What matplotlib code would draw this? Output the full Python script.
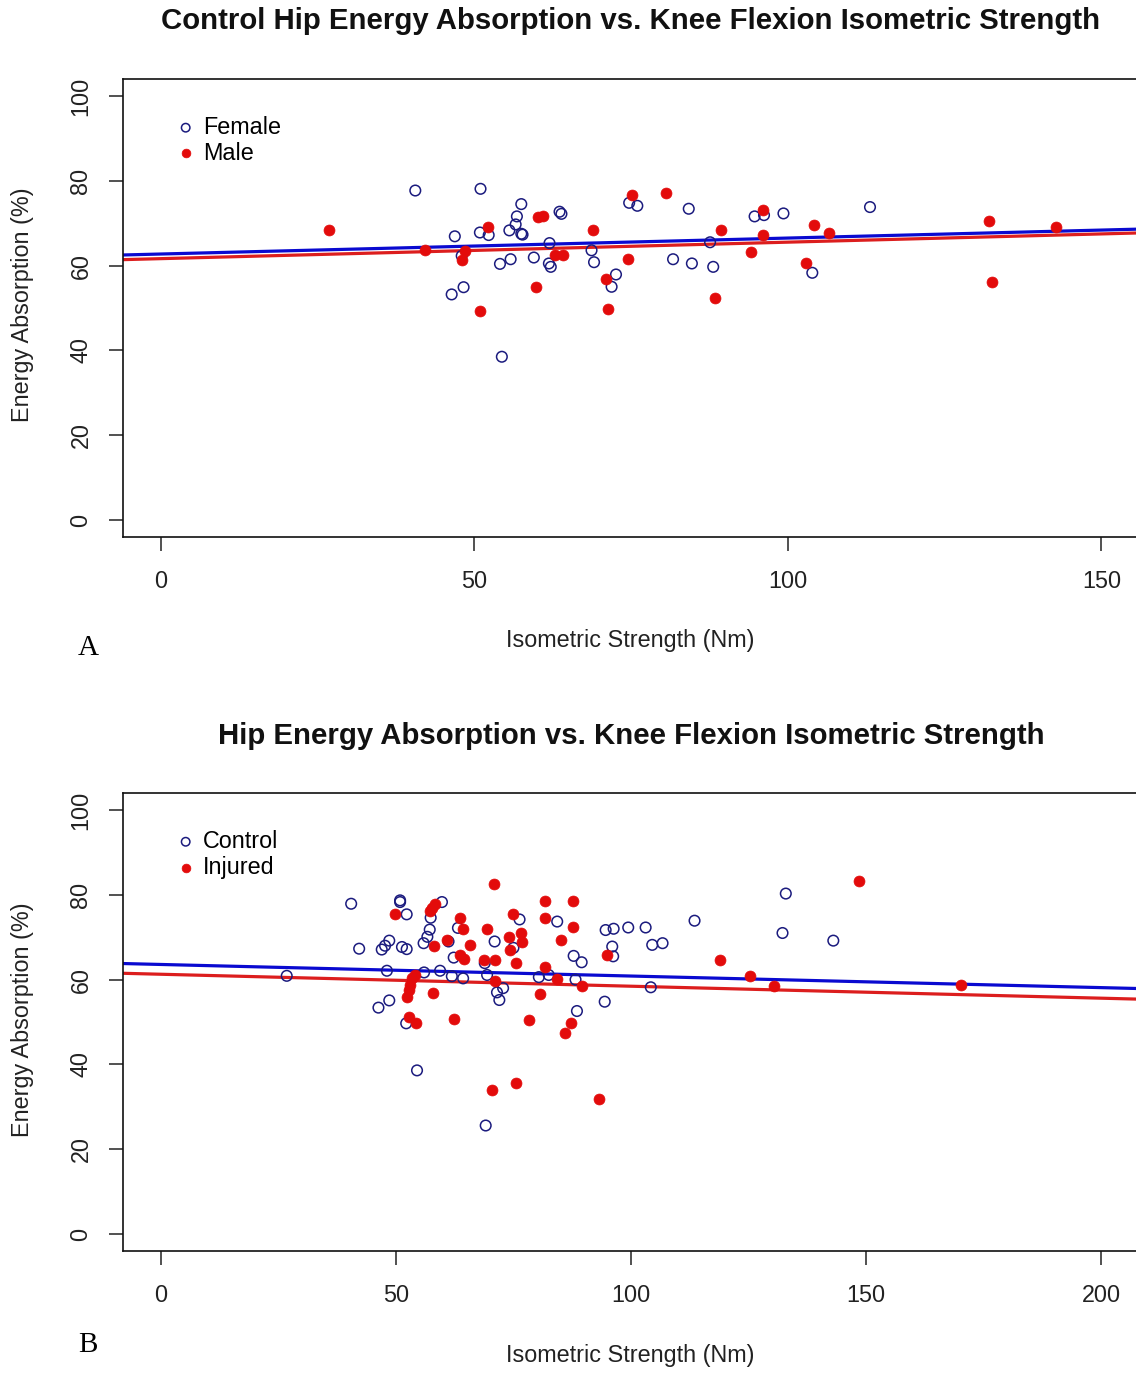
import numpy as np
import matplotlib
matplotlib.use("Agg")
import matplotlib.pyplot as plt

plt.rcParams["font.family"] = ["Liberation Sans", "DejaVu Sans"]

# ---- panel A: control group, female vs male ----
female_x = [40.6, 51.0, 46.9, 50.9, 52.3, 57.5, 56.8, 56.6, 55.6, 57.5, 57.7, 63.6, 63.9,
            54.1, 55.8, 59.5, 61.9, 62.2, 62.0, 46.4, 48.3, 54.4, 68.7, 69.1, 72.6, 71.9,
            74.7, 76.0, 84.2, 81.7, 84.7, 88.1, 87.6, 94.7, 96.2, 99.3, 103.9, 113.1, 48.0]
female_y = [77.7, 78.1, 66.9, 67.8, 67.2, 74.5, 71.6, 69.7, 68.3, 67.5, 67.3, 72.7, 72.2,
            60.4, 61.5, 61.9, 60.5, 59.7, 65.3, 53.2, 54.9, 38.5, 63.6, 60.8, 57.9, 55.0,
            74.8, 74.1, 73.4, 61.5, 60.5, 59.7, 65.5, 71.6, 71.9, 72.3, 58.3, 73.8, 62.3]
male_x = [26.8, 42.1, 48.5, 48.1, 52.2, 50.9, 59.8, 60.2, 61.0, 62.9, 64.1, 69.0, 71.0, 71.4,
          74.5, 75.1, 80.5, 89.4, 94.2, 96.0, 96.0, 88.4, 104.1, 106.6, 102.9, 132.1, 132.5, 142.8]
male_y = [68.3, 63.6, 63.4, 61.2, 69.1, 49.3, 55.0, 71.4, 71.7, 62.4, 62.4, 68.3, 56.8, 49.7,
          61.5, 76.7, 77.0, 68.3, 63.3, 73.1, 67.3, 52.4, 69.5, 67.7, 60.5, 70.5, 56.2, 69.2]
# fitted lines, read at the left and right edge of the plot
fit_a_x = [-6, 156]
fit_a_female = [62.5, 68.6]
fit_a_male = [61.4, 67.7]

# ---- panel B: control vs injured ----
control_x = [40.5, 50.9, 50.9, 52.3, 59.8, 57.4, 57.2, 56.7, 55.9, 42.2, 47.0, 47.7, 48.6, 51.3,
             52.3, 63.2, 61.2, 62.3, 68.9, 71.0, 75.0, 76.3, 84.3, 87.8, 89.5, 94.6, 96.3, 99.4,
             96.0, 96.2, 48.1, 56.0, 59.4, 61.9, 64.3, 69.4, 71.5, 72.8, 72.0, 80.4, 82.5, 88.2,
             88.5, 94.4, 46.3, 48.6, 52.2, 54.5, 69.1, 26.8, 103.1, 104.5, 106.7, 113.5, 132.9,
             132.2, 143.0, 104.2]
control_y = [77.9, 78.7, 78.3, 75.4, 78.3, 74.6, 71.8, 70.1, 68.6, 67.3, 67.1, 68.0, 69.2, 67.7,
             67.2, 72.2, 69.0, 65.2, 63.9, 69.0, 67.5, 74.2, 73.7, 65.6, 64.1, 71.7, 72.0, 72.3,
             67.8, 65.5, 62.1, 61.7, 62.1, 60.8, 60.3, 61.1, 57.0, 58.0, 55.2, 60.6, 61.1, 60.0,
             52.6, 54.8, 53.4, 55.1, 49.7, 38.6, 25.6, 60.9, 72.3, 68.2, 68.6, 73.9, 80.3,
             71.0, 69.2, 58.2]
injured_x = [70.9, 81.8, 87.6, 49.8, 57.7, 58.4, 57.3, 63.7, 64.2, 74.9, 81.8, 87.6, 69.4, 74.0,
             76.6, 76.8, 74.3, 60.9, 65.8, 58.1, 63.7, 64.4, 68.8, 71.0, 75.6, 85.2, 94.9, 81.8,
             84.3, 71.1, 89.6, 80.6, 57.8, 53.4, 53.0, 52.7, 52.3, 54.0, 52.7, 54.3, 62.3, 78.2,
             87.2, 86.0, 70.4, 75.6, 93.1, 119.0, 125.2, 130.4, 148.5, 170.2]
injured_y = [82.6, 78.5, 78.5, 75.4, 76.9, 77.9, 76.2, 74.6, 72.0, 75.4, 74.6, 72.5, 72.0, 70.0,
             71.1, 68.8, 67.1, 69.4, 68.1, 68.0, 65.9, 64.9, 64.7, 64.7, 63.9, 69.3, 65.9, 63.0,
             60.1, 59.6, 58.6, 56.6, 56.9, 60.4, 58.8, 57.6, 56.0, 61.2, 51.3, 49.7, 50.8, 50.4,
             49.8, 47.3, 33.9, 35.7, 31.8, 64.6, 60.8, 58.4, 83.3, 58.8]
fit_b_x = [-8, 208]
fit_b_control = [63.8, 57.9]
fit_b_injured = [61.5, 55.4]

navy = "#1b1b7e"
red = "#e30b0b"
line_blue = "#0a0ad0"
line_red = "#dc1e1e"
fs = 16.8


def panel(ax, ox, oy, fx, fy, labels, fit_x, fit_blue, fit_red, xmax, xticks):
    ax.plot(fit_x, fit_blue, color=line_blue, lw=2.3, zorder=1)
    ax.plot(fit_x, fit_red, color=line_red, lw=2.3, zorder=1)
    ax.scatter(ox, oy, s=58, facecolors="none", edgecolors=navy, linewidths=1.1,
               label=labels[0], zorder=2)
    ax.scatter(fx, fy, s=62, color=red, edgecolors=red, linewidths=0.5,
               label=labels[1], zorder=3)
    ax.set_xlim(-0.04 * xmax, 1.04 * xmax)
    ax.set_ylim(-4, 104)
    ax.set_xticks(xticks)
    ax.set_xticklabels([str(t) for t in xticks])
    yt = [0, 20, 40, 60, 80, 100]
    ax.set_yticks(yt)
    ax.set_yticklabels([str(t) for t in yt], rotation=90, va="center")
    ax.tick_params(axis="both", length=10, width=1.1, labelsize=fs, colors="#222222")
    ax.tick_params(axis="x", pad=14)
    ax.tick_params(axis="y", pad=12)
    for sp in ax.spines.values():
        sp.set_linewidth(1.2)
        sp.set_color("#111111")
    ax.legend(loc="upper left", bbox_to_anchor=(0.041, 0.94), frameon=False,
              fontsize=fs, handletextpad=0.25, handlelength=1.0, labelspacing=0.12,
              borderaxespad=0, scatterpoints=1, markerscale=0.8)


fig = plt.figure(figsize=(11.36, 13.74), dpi=100)
ax_a = fig.add_axes([0.1083, 0.6092, 0.8944, 0.3333])
ax_b = fig.add_axes([0.1083, 0.0895, 0.8944, 0.3333])

panel(ax_a, female_x, female_y, male_x, male_y, ["Female", "Male"],
      fit_a_x, fit_a_female, fit_a_male, 150, [0, 50, 100, 150])
panel(ax_b, control_x, control_y, injured_x, injured_y, ["Control", "Injured"],
      fit_b_x, fit_b_control, fit_b_injured, 200, [0, 50, 100, 150, 200])

fig.text(0.5555, 0.9845, "Control Hip Energy Absorption vs. Knee Flexion Isometric Strength",
         ha="center", va="center", fontsize=21.2, fontweight="bold", color="#111111")
fig.text(0.5555, 0.4642, "Hip Energy Absorption vs. Knee Flexion Isometric Strength",
         ha="center", va="center", fontsize=21.2, fontweight="bold", color="#111111")

for y in (0.5335, 0.0138):
    fig.text(0.5546, y, "Isometric Strength (Nm)", ha="center", va="center",
             fontsize=fs, color="#222222")
for y in (0.778, 0.2576):
    fig.text(0.0194, y, "Energy Absorption (%)", ha="center", va="center",
             rotation=90, fontsize=fs, color="#222222")

fig.text(0.0775, 0.5284, "A", ha="center", va="center", fontsize=21,
         family=["Liberation Serif", "DejaVu Serif"])
fig.text(0.0775, 0.0211, "B", ha="center", va="center", fontsize=21,
         family=["Liberation Serif", "DejaVu Serif"])

fig.savefig("out.png", dpi=100)
